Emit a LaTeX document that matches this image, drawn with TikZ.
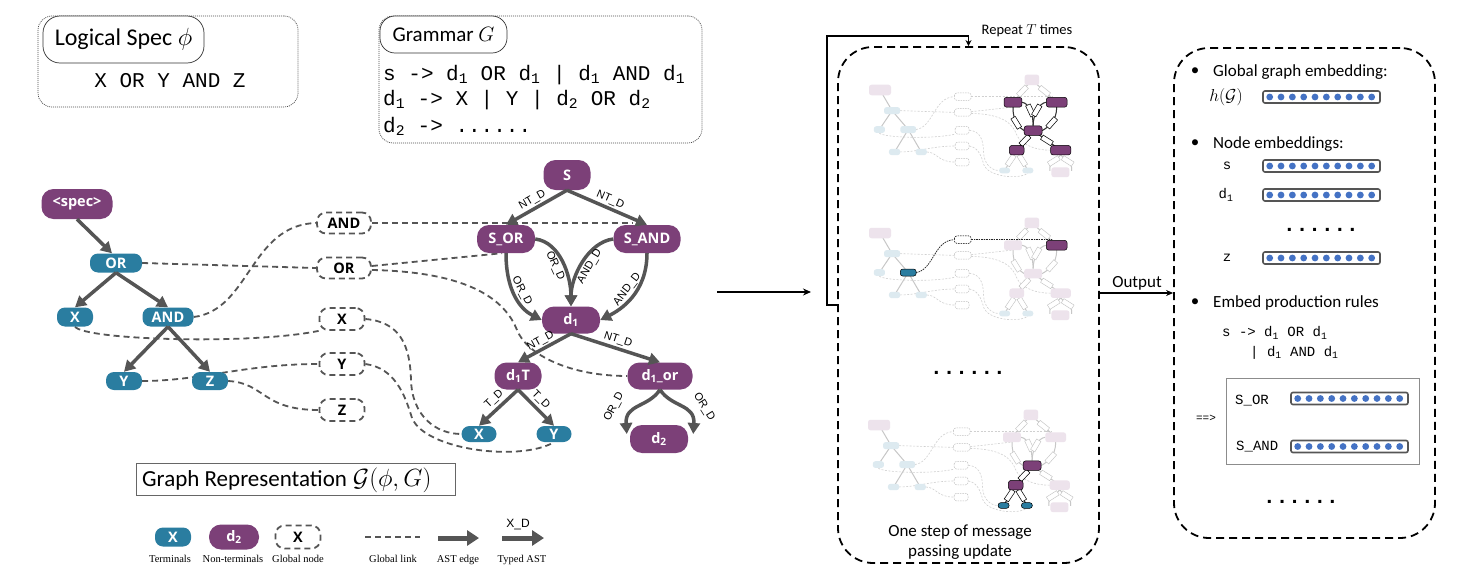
\documentclass[tikz,border=0pt]{standalone}
\usepackage{fontspec}
\setmainfont{Carlito}
\newfontfamily\nodefont{Open Sans}
\newfontfamily\monofont{Liberation Mono}
\newfontfamily\lblfont{Liberation Sans}
\newfontfamily\legfont{Liberation Serif}
\usetikzlibrary{arrows.meta,calc}
\pgfdeclarelayer{bg}
\pgfsetlayers{bg,main}
\definecolor{ntpurple}{HTML}{7C4078}
\definecolor{tblue}{HTML}{2A7DA0}
\definecolor{edgegray}{HTML}{555555}
\definecolor{dotblue}{HTML}{4472C4}
\definecolor{fadep}{HTML}{EDE3EC}
\definecolor{fadeb}{HTML}{DDEAF0}
\definecolor{fadel}{HTML}{D0D0D0}
\tikzset{
  dotbox/.style={draw=black!70, line width=0.7pt, dash pattern=on 1pt off 1pt, rounded corners=14pt, inner sep=0pt},
  pill/.style={draw=black!80, line width=0.7pt, fill=white, rounded corners=17pt, inner sep=0pt},
  term/.style={fill=tblue, rounded corners=8pt, text=white, font=\nodefont\bfseries\fontsize{14.5}{15}\selectfont, inner sep=0pt, minimum height=19pt},
  nonterm/.style={fill=ntpurple, rounded corners=12pt, text=white, font=\nodefont\bfseries\fontsize{14.5}{15}\selectfont, inner sep=0pt, minimum height=28pt},
  glob/.style={draw=edgegray, line width=1.8pt, dash pattern=on 6pt off 4pt, rounded corners=9pt, fill=white, font=\nodefont\bfseries\fontsize{14.5}{15}\selectfont, inner sep=0pt, minimum height=21pt},
  ast/.style={draw=edgegray, line width=3.5pt, -{Triangle[length=11pt,width=12pt]}},
  glink/.style={draw=edgegray, line width=1.8pt, dash pattern=on 6pt off 4pt},
  elbl/.style={font=\lblfont\fontsize{11}{11}\selectfont, sloped, inner sep=1.5pt},
  rlbl/.style={font=\lblfont\fontsize{11}{11}\selectfont, inner sep=0pt},
  legtxt/.style={font=\legfont\fontsize{10.5}{11}\selectfont, inner sep=0pt},
  monobig/.style={font=\monofont\fontsize{21}{21}\selectfont, inner sep=0pt},
  monomid/.style={font=\monofont\fontsize{14}{14}\selectfont, inner sep=0pt},
  bodytxt/.style={font=\fontsize{17}{20}\selectfont, inner sep=0pt},
  panel/.style={draw=black, line width=1.8pt, dash pattern=on 8pt off 5pt, rounded corners=35pt, inner sep=0pt},
  bar/.style={draw=edgegray, line width=1.6pt, rounded corners=2pt, fill=white, minimum width=117pt, minimum height=12pt, inner sep=0pt},
  dotrow/.style={font=\monofont\bfseries\fontsize{21}{21}\selectfont, inner sep=0pt},
  mlink/.style={draw=fadel, line width=0.6pt, dash pattern=on 2pt off 1.5pt},
  medge/.style={draw=black!22, line width=1pt},
  mlbl/.style={draw=black!25, fill=white, line width=0.4pt, minimum width=12pt, minimum height=5pt, inner sep=0pt, sloped},
  mpurple/.style={fill=fadep},
  mblue/.style={fill=fadeb},
  mglob/.style={draw=black!25, dash pattern=on 1.5pt off 1pt, line width=0.5pt, fill=white},
  hedge/.style={draw=black!80, line width=1pt},
  hlbl/.style={draw=black, fill=white, line width=0.5pt, minimum width=12pt, minimum height=5pt, inner sep=0pt, sloped},
  hpurple/.style={fill=ntpurple, draw=black, line width=0.5pt},
  hblue/.style={fill=tblue, draw=black, line width=0.5pt},
  hglob/.style={draw=black, dash pattern=on 1.5pt off 1pt, line width=0.5pt, fill=white},
  hlink/.style={draw=black!85, line width=0.7pt, dash pattern=on 1.5pt off 1pt},
}
\newcommand\mnode[5]{\path[#5,rounded corners=2.5pt] ({#1-#3/2},{#2-#4/2}) rectangle ({#1+#3/2},{#2+#4/2});}
\newcommand\minibase{%
  \draw[mlink] (142,263) -- (317,268);
  \draw[mlink] (193,317) .. controls (250,310) and (250,225) .. (317,223);
  \draw[mlink] (75,327) .. controls (85,340) and (250,345) .. (320,330);
  \draw[mlink] (142,381) .. controls (200,381) and (245,364) .. (320,364);
  \draw[mlink] (228,381) .. controls (265,383) and (262,410) .. (320,410);
  \draw[mlink] (371,223) -- (633,223);
  \draw[mlink] (371,266) -- (502,253);
  \draw[mlink] (371,271) .. controls (470,272) and (505,300) .. (517,330) .. controls (527,355) and (570,376) .. (627,376);
  \draw[mlink] (365,319) .. controls (400,322) and (410,345) .. (411,380) .. controls (412,415) and (435,434) .. (462,434);
  \draw[mlink] (365,364) .. controls (395,368) and (405,395) .. (412,418) .. controls (425,450) and (520,462) .. (554,442);
  \draw[medge] (77,204) -- (116,263);
  \draw[medge] (116,263) -- (75,317);
  \draw[medge] (116,263) -- (168,317);
  \draw[medge] (168,317) -- (124,381);
  \draw[medge] (168,317) -- (210,381);
  \draw[medge] (567,175) -- node[mlbl]{} (506,239);
  \draw[medge] (567,175) -- node[mlbl]{} (647,239);
  \draw[medge] (506,253) .. controls (506,293) and (522,310) .. node[mlbl]{} (542,320);
  \draw[medge] (535,239) .. controls (560,242) and (571,276) .. node[mlbl]{} (571,306);
  \draw[medge] (613,239) .. controls (588,242) and (571,276) .. node[mlbl]{} (571,306);
  \draw[medge] (647,253) .. controls (647,293) and (620,310) .. node[mlbl]{} (600,320);
  \draw[medge] (571,320) -- node[mlbl]{} (518,376);
  \draw[medge] (571,320) -- node[mlbl]{} (660,376);
  \draw[medge] (518,376) -- node[mlbl]{} (479,434);
  \draw[medge] (518,376) -- node[mlbl]{} (554,434);
  \draw[medge] (660,389) .. controls (650,408) and (622,402) .. node[mlbl]{} (625,435);
  \draw[medge] (660,389) .. controls (670,408) and (698,402) .. node[mlbl]{} (695,435);
  \mnode{77}{204}{71}{30}{mpurple}
  \mnode{116}{263}{52}{20}{mblue}
  \mnode{75}{317}{36}{19}{mblue}
  \mnode{168}{317}{51}{20}{mblue}
  \mnode{124}{381}{36}{18}{mblue}
  \mnode{210}{381}{36}{18}{mblue}
  \mnode{344}{223}{54}{21}{mglob}
  \mnode{344}{268}{54}{21}{mglob}
  \mnode{342}{319}{45}{22}{mglob}
  \mnode{342}{364}{45}{22}{mglob}
  \mnode{342}{410}{45}{22}{mglob}
  \mnode{567}{175}{47}{30}{mpurple}
  \mnode{506}{239}{58}{28}{mpurple}
  \mnode{647}{239}{67}{28}{mpurple}
  \mnode{571}{320}{58}{27}{mpurple}
  \mnode{518}{376}{47}{27}{mpurple}
  \mnode{660}{376}{65}{27}{mpurple}
  \mnode{479}{434}{35}{16}{mblue}
  \mnode{554}{434}{35}{16}{mblue}
  \mnode{659}{439}{58}{28}{mpurple}
}
\newcommand\embbar[3]{%
  \node[bar] (#1) at (#2,#3) {};
  \foreach \k in {0,...,9} \fill[dotblue] ($(#1.west)+(7.5+\k*11.33,0)$) circle (3.4pt);
}
\begin{document}
\begin{tikzpicture}[x=1pt,y=-1pt]
\path[use as bounding box] (0,0) rectangle (1460,578);
\begin{pgfonlayer}{bg}
\fill[white] (0,0) rectangle (1460,578);
\end{pgfonlayer}

% ---------- top boxes ----------
\node[dotbox, minimum width=260pt, minimum height=91pt] (lbox) at (168,61.5) {};
\node[pill, minimum width=161pt, minimum height=47pt, font=\fontsize{24}{24}\selectfont] (lpill) at (123.5,39.5) {Logical Spec $\phi$};
\node[monobig] (spectxt) at (170,81) {X OR Y AND Z};

\node[dotbox, minimum width=323pt, minimum height=127pt] (gbox) at (540.5,79.5) {};
\node[pill, minimum width=127pt, minimum height=37pt, rounded corners=15pt, font=\fontsize{21}{21}\selectfont] (gpill) at (443.5,34.5) {Grammar $G$};
\node[monobig, anchor=west] (g1) at (383,75) {s -> d\textsubscript{1} OR d\textsubscript{1} | d\textsubscript{1} AND d\textsubscript{1}};
\node[monobig, anchor=west] (g2) at (383,100) {d\textsubscript{1} -> X | Y | d\textsubscript{2} OR d\textsubscript{2}};
\node[monobig, anchor=west] (g3) at (383,126) {d\textsubscript{2} -> ......};

% ---------- left AST ----------
\node[nonterm, minimum width=71pt, minimum height=30pt] (spec) at (77,204) {<spec>};
\node[term, minimum width=52pt] (OR) at (116,263) {OR};
\node[term, minimum width=36pt] (X) at (75,317) {X};
\node[term, minimum width=51pt] (AND) at (168,317) {AND};
\node[term, minimum width=36pt, minimum height=18pt] (Y) at (124,381) {Y};
\node[term, minimum width=36pt, minimum height=18pt] (Z) at (210,381) {Z};

% ---------- global nodes ----------
\node[glob, minimum width=54pt] (gAND) at (344,223) {AND};
\node[glob, minimum width=54pt] (gOR) at (344,268) {OR};
\node[glob, minimum width=45pt, minimum height=22pt] (gX) at (342,319) {X};
\node[glob, minimum width=45pt, minimum height=22pt] (gY) at (342,364) {Y};
\node[glob, minimum width=45pt, minimum height=22pt] (gZ) at (342,410) {Z};

% ---------- grammar graph ----------
\node[nonterm, minimum width=47pt, minimum height=30pt] (S) at (567,175) {S};
\node[nonterm, minimum width=58pt] (SOR) at (506,239) {S\_OR};
\node[nonterm, minimum width=67pt] (SAND) at (647,239) {S\_AND};
\node[nonterm, minimum width=58pt, minimum height=27pt] (d1) at (571,320) {d\textsubscript{1}};
\node[nonterm, minimum width=47pt, minimum height=27pt] (d1T) at (518,376) {d\textsubscript{1}T};
\node[nonterm, minimum width=65pt, minimum height=27pt] (d1or) at (660,376) {d\textsubscript{1}\_or};
\node[term, minimum width=35pt, minimum height=16pt] (Xr) at (479,434) {X};
\node[term, minimum width=35pt, minimum height=16pt] (Yr) at (554,434) {Y};
\node[nonterm, minimum width=58pt] (d2) at (659,439) {d\textsubscript{2}};

% ---------- global links ----------
\begin{pgfonlayer}{bg}
\draw[glink] (OR.east) -- (gOR.west);
\draw[glink] (AND.east) .. controls (250,310) and (250,225) .. (gAND.west);
\draw[glink] (X.south) .. controls (85,340) and (250,345) .. (gX.south west);
\draw[glink] (Y.east) .. controls (200,381) and (245,364) .. (gY.west);
\draw[glink] (Z.east) .. controls (265,383) and (262,410) .. (gZ.west);
\draw[glink] (gAND.east) -- ($(gAND.east -| SAND.north)+(-14,0)$);
\draw[glink] ([yshift=2pt]gOR.east) -- ($(SOR.south)+(-4,0)$);
\draw[glink] ([yshift=-2pt]gOR.east) .. controls (470,272) and (505,300) .. (517,330) .. controls (527,355) and (570,376) .. (d1or.west);
\draw[glink] (gX.east) .. controls (400,322) and (410,345) .. (411,380) .. controls (412,415) and (435,434) .. (Xr.west);
\draw[glink] (gY.east) .. controls (395,368) and (405,395) .. (412,418) .. controls (425,450) and (520,462) .. (Yr.south);
\end{pgfonlayer}

% ---------- AST edges ----------
\draw[ast] (spec.south) -- ([xshift=-4pt]OR.north);
\draw[ast] (OR.south) -- (X.north);
\draw[ast] (OR.south) -- (AND.north);
\draw[ast] (AND.south) -- (Y.north);
\draw[ast] (AND.south) -- (Z.north);

\draw[ast] (S.south) -- node[elbl, above] {NT\_D} (SOR.north);
\draw[ast] (S.south) -- node[elbl, above] {NT\_D} (SAND.north);
\draw[ast] (SOR.south) .. controls +(0,40) and +(-20,-10) .. node[elbl, pos=0.45, above] {OR\_D} (d1.west);
\draw[ast] (SOR.east) .. controls +(25,3) and +(0,-30) .. node[elbl, pos=0.5, below] {OR\_D} (d1.north);
\draw[ast] (SAND.west) .. controls +(-25,3) and +(0,-30) .. node[elbl, pos=0.5, below] {AND\_D} (d1.north);
\draw[ast] (SAND.south) .. controls +(0,40) and +(20,-10) .. node[elbl, pos=0.45, above] {AND\_D} (d1.east);
\draw[ast] (d1.south) -- node[elbl, above] {NT\_D} (d1T.north);
\draw[ast] (d1.south) -- node[elbl, above] {NT\_D} (d1or.north);
\draw[ast] (d1T.south) -- node[elbl, above=1pt, pos=0.45] {T\_D} (Xr.north);
\draw[ast] (d1T.south) -- node[elbl, above=1pt, pos=0.45] {T\_D} (Yr.north);
\draw[ast] (d1or.south) .. controls +(-12,18) and +(-2,-30) .. ($(d2.west)+(-3,-5)$);
\draw[ast] (d1or.south) .. controls +(12,18) and +(2,-30) .. ($(d2.east)+(5,-5)$);
\node[rlbl, rotate=62] (ordl) at (614,407) {OR\_D};
\node[rlbl, rotate=-58] (ordr) at (704,407) {OR\_D};

% ---------- graph representation + legend ----------
\node[draw=black!60, line width=0.8pt, minimum width=319pt, minimum height=32pt, inner sep=0pt] (grbox) at (295.5,479) {};
\node[anchor=west, font=\fontsize{23}{23}\selectfont, inner sep=0pt] (grtxt) at (142,480) {Graph Representation\hspace{6pt}$\mathcal{G}(\phi,G)$};

\node[term, minimum width=36pt] (lgT) at (173,537) {X};
\node[nonterm, minimum width=50pt, minimum height=25pt] (lgN) at (234,537) {d\textsubscript{2}};
\node[glob, minimum width=45pt, minimum height=23pt] (lgG) at (298,537) {X};
\node[legtxt] (lt1) at (170,559) {Terminals};
\node[legtxt] (lt2) at (233,559) {Non-terminals};
\node[legtxt] (lt3) at (298,559) {Global node};
\coordinate (gl1) at (365,537);
\coordinate (gl2) at (420,537);
\draw[glink] (gl1) -- (gl2);
\node[legtxt] (lt4) at (393,559) {Global link};
\coordinate (ae1) at (438,538);
\coordinate (ae2) at (479,538);
\draw[ast, line width=5pt, -{Triangle[length=12pt,width=15pt]}] (ae1) -- (ae2);
\node[legtxt] (lt5) at (458,560) {AST edge};
\coordinate (ta1) at (502,538);
\coordinate (ta2) at (544,538);
\draw[ast, line width=5pt, -{Triangle[length=12pt,width=15pt]}] (ta1) -- (ta2);
\node[font=\lblfont\fontsize{12}{12}\selectfont, inner sep=0pt] (xd) at (518,525) {X\_D};
\node[legtxt] (lt6) at (522,560) {Typed AST};

% ---------- arrow to middle panel ----------
\coordinate (arrS) at (717,292);
\coordinate (arrE) at (811,292);
\draw[line width=1.5pt, -{Stealth[length=8pt,width=7pt]}] (arrS) -- (arrE);

% ---------- middle panel ----------
\node[panel, minimum width=261pt, minimum height=516pt] (mp) at (968.5,305) {};
\draw[line width=1.5pt, -{Stealth[length=6pt,width=6pt]}] (mp.west) -- ++(-10,0) |- ($(mp.north)+(0,-10)$) -- (mp.north);
\node[font=\fontsize{14.5}{15}\selectfont, inner sep=0pt] (rep) at (1027,31) {Repeat $T$ times};

\begin{scope}[shift={(880,90)},xscale=0.31,yscale=0.35,shift={(-77,-204)}]
  \minibase
  \draw[hedge] (506,253) .. controls (506,293) and (522,310) .. node[hlbl]{} (542,320);
  \draw[hedge] (535,239) .. controls (560,242) and (571,276) .. node[hlbl]{} (571,306);
  \draw[hedge] (613,239) .. controls (588,242) and (571,276) .. node[hlbl]{} (571,306);
  \draw[hedge] (647,253) .. controls (647,293) and (620,310) .. node[hlbl]{} (600,320);
  \draw[hedge] (571,320) -- node[hlbl]{} (518,376);
  \draw[hedge] (571,320) -- node[hlbl]{} (660,376);
  \mnode{506}{239}{58}{28}{hpurple}
  \mnode{647}{239}{67}{28}{hpurple}
  \mnode{571}{320}{58}{27}{hpurple}
  \mnode{518}{376}{47}{27}{hpurple}
  \mnode{660}{376}{65}{27}{hpurple}
\end{scope}

\begin{scope}[shift={(880,233)},xscale=0.31,yscale=0.35,shift={(-77,-204)}]
  \minibase
  \draw[hlink] (193,317) .. controls (250,310) and (250,225) .. (317,223);
  \draw[hlink] (371,223) -- (633,223);
  \mnode{168}{317}{51}{20}{hblue}
  \mnode{344}{223}{54}{21}{hglob}
  \mnode{647}{239}{67}{28}{hpurple}
\end{scope}

\node[dotrow] (middots) at (968,373) {......};

\begin{scope}[shift={(879,425)},xscale=0.31,yscale=0.35,shift={(-77,-204)}]
  \minibase
  \draw[hedge] (571,320) -- node[hlbl]{} (518,376);
  \draw[hedge] (518,376) -- node[hlbl]{} (479,434);
  \draw[hedge] (518,376) -- node[hlbl]{} (554,434);
  \mnode{571}{320}{58}{27}{hpurple}
  \mnode{518}{376}{47}{27}{hpurple}
  \mnode{479}{434}{35}{16}{hblue}
  \mnode{554}{434}{35}{16}{hblue}
\end{scope}

\node[bodytxt, align=center] (step) at (960,542) {One step of message\\passing update};

% ---------- right panel ----------
\node[panel, minimum width=261pt, minimum height=490pt] (rp) at (1304.5,293) {};
\draw[line width=1.5pt, -{Stealth[length=7pt,width=6pt]}] (mp.east |- rp.west) -- (rp.west);
\node[font=\fontsize{17}{17}\selectfont, inner sep=0pt] (outlbl) at (1137,283) {Output};

\node[bodytxt] (b1) at (1195,72) {•};
\node[bodytxt, anchor=west] (t1) at (1213,72) {Global graph embedding:};
\node[bodytxt] (hg) at (1226,97) {$h(\mathcal{G})$};
\embbar{bg}{1321.5}{97}

\node[bodytxt] (b2) at (1195,144) {•};
\node[bodytxt, anchor=west] (t2) at (1213,144) {Node embeddings:};
\node[monomid] (ls) at (1227,166) {s};
\embbar{bs}{1321.5}{166}
\node[monomid] (ld) at (1226,195) {d\textsubscript{1}};
\embbar{bd}{1321.5}{195}
\node[dotrow] (rdots) at (1321,230) {......};
\node[monomid] (lz) at (1227,258) {z};
\embbar{bz}{1321.5}{258}

\node[bodytxt] (b3) at (1195,303) {•};
\node[bodytxt, anchor=west] (t3) at (1213,303) {Embed production rules};
\node[monomid, anchor=west] (pr1) at (1222,333) {s -> d\textsubscript{1} OR d\textsubscript{1}};
\node[monomid, anchor=west] (pr2) at (1250,353) {| d\textsubscript{1} AND d\textsubscript{1}};
\node[draw=black!45, line width=0.8pt, minimum width=193pt, minimum height=86pt, inner sep=0pt] (prbox) at (1322.5,421) {};
\node[monomid, anchor=west] (lor) at (1235,401) {S\_OR};
\embbar{bor}{1349.5}{398.5}
\node[monomid, anchor=west] (land) at (1236,447) {S\_AND};
\embbar{band}{1349.5}{446.5}
\node[font=\monofont\fontsize{11}{11}\selectfont, inner sep=0pt] (arrtxt) at (1206,418) {==>};
\node[dotrow] (bdots) at (1301,502) {......};
\end{tikzpicture}
\end{document}
